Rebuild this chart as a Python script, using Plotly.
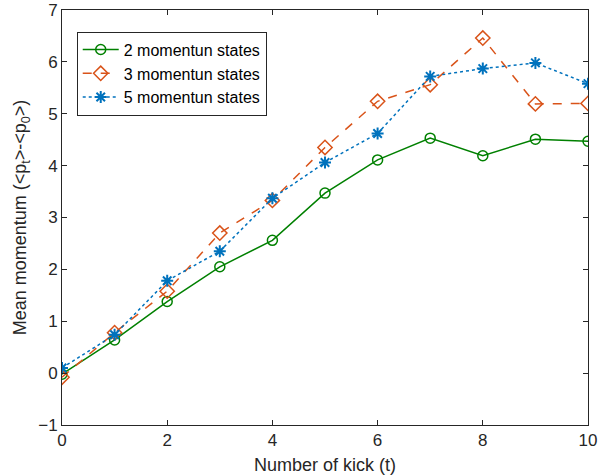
import plotly.graph_objects as go

t = [0, 1, 2, 3, 4, 5, 6, 7, 8, 9, 10]
s2 = [-0.02, 0.64, 1.38, 2.05, 2.56, 3.47, 4.11, 4.53, 4.19, 4.51, 4.47]
s3 = [-0.08, 0.78, 1.58, 2.70, 3.33, 4.35, 5.24, 5.56, 6.46, 5.19, 5.20]
s5 = [0.10, 0.74, 1.78, 2.35, 3.37, 4.06, 4.62, 5.72, 5.87, 5.98, 5.58]
names = ["2 momentun states", "3 momentun states", "5 momentun states"]

fig = go.Figure()
fig.add_trace(go.Scatter(x=t, y=s2, name=names[0], mode="lines+markers",
                         line=dict(color="#008000", width=1.5),
                         marker=dict(symbol="circle-open", size=10, color="#008000", line=dict(width=1.5))))
fig.add_trace(go.Scatter(x=t, y=s3, name=names[1], mode="lines+markers",
                         line=dict(color="#D95319", width=1.5, dash="dash"),
                         marker=dict(symbol="diamond-open", size=11, color="#D95319", line=dict(width=1.5))))
fig.add_trace(go.Scatter(x=t, y=s5, name=names[2], mode="lines+markers",
                         line=dict(color="#0072BD", width=1.5, dash="dot"),
                         marker=dict(symbol="asterisk-open", size=10, color="#0072BD", line=dict(width=2, color="#0072BD"))))

axis_common = dict(showgrid=False, zeroline=False, showline=True, mirror="ticks",
                   linecolor="#262626", linewidth=1, ticks="inside", ticklen=5,
                   tickcolor="#262626", tickfont=dict(size=17, color="#262626"),
                   automargin=False)
fig.update_xaxes(range=[0, 10], dtick=2, tick0=0,
                 title=dict(text="Number of kick (t)", font=dict(size=18, color="#262626"), standoff=8),
                 **axis_common)
fig.update_yaxes(range=[-1, 7], dtick=1, tick0=-1,
                 title=dict(text="Mean momentum (<p<sub>t</sub>>-<p<sub>0</sub>>)", font=dict(size=18, color="#262626"), standoff=6),
                 **axis_common)

fig.update_layout(
    width=608, height=476,
    margin=dict(l=62, r=20, t=10, b=51),
    plot_bgcolor="white", paper_bgcolor="white",
    font=dict(family="Liberation Sans, Arial, sans-serif", color="#262626"),
    legend=dict(x=0.028, y=0.948, xanchor="left", yanchor="top",
                bordercolor="#262626", borderwidth=1, bgcolor="white",
                font=dict(size=16, color="#000000"), tracegroupgap=0, itemwidth=36),
)
fig.write_html("out.html")
